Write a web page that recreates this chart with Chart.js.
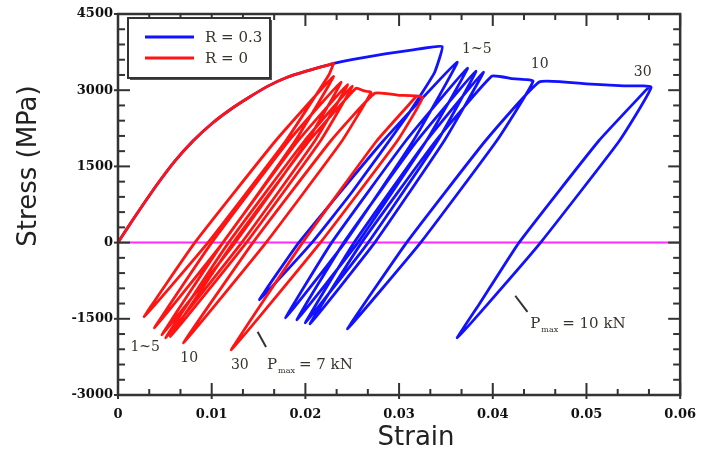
<!DOCTYPE html>
<html>
<head>
<meta charset="utf-8">
<script src="https://cdn.jsdelivr.net/npm/chart.js@4.4.0/dist/chart.umd.min.js"></script>
<style>
  html, body { margin: 0; padding: 0; background: #fff; }
  canvas { display: block; }
</style>
</head>
<body>
<canvas id="chart" width="708" height="455"></canvas>
<script>
// Stress-strain hysteresis loops, R = 0.3 (Pmax 10 kN) vs R = 0 (Pmax 7 kN)

// first loading curve, shared by both tests
const loadStrain = [0, 0.0010, 0.0020, 0.0040, 0.0060, 0.0080, 0.0100, 0.0120, 0.0140, 0.0160, 0.0180, 0.0200, 0.0226];
const loadStress = [0, 285, 565, 1100, 1590, 2000, 2340, 2620, 2860, 3080, 3250, 3370, 3505];

// R = 0.3 : rest of the path (peak, cycles 1~5, 10, 30)
const blueStrain = [
  0.0251, 0.0285, 0.0315, 0.0346,
  0.0338, 0.0327, 0.0306, 0.0250, 0.0207, 0.0151,
  0.0193, 0.0283, 0.0362,
  0.0315, 0.0242, 0.0179,
  0.0228, 0.0307, 0.0373,
  0.0329, 0.0256, 0.0191,
  0.0241, 0.0319, 0.0382,
  0.0341, 0.0267, 0.0200,
  0.0252, 0.0329, 0.0390,
  0.0348, 0.0274, 0.0205,
  0.0260, 0.0339, 0.0399,
  0.0420, 0.0443,
  0.0404, 0.0323, 0.0245,
  0.0308, 0.0392, 0.0450,
  0.0500, 0.0540, 0.0569,
  0.0535, 0.0451, 0.0395, 0.0362,
  0.0386, 0.0428, 0.0513, 0.0566
];
const blueStress = [
  3605, 3715, 3795, 3860,
  3355, 3020, 2428, 1000, 0, -1125,
  0, 2000, 3553,
  2000, 0, -1480,
  0, 2000, 3434,
  2000, 0, -1520,
  0, 2000, 3375,
  2000, 0, -1580,
  0, 2000, 3355,
  2000, 0, -1600,
  0, 2000, 3276,
  3230, 3178,
  2000, 0, -1700,
  0, 2000, 3165,
  3125, 3085, 3059,
  2000, 0, -1200, -1875,
  -1200, 0, 2000, 3050
];

// R = 0 : rest of the path
const redStrain = [
  0.0230,
  0.0225, 0.0179, 0.0096, 0.0028,
  0.0082, 0.0168, 0.0230,
  0.0189, 0.0112, 0.0039,
  0.0100, 0.0182, 0.0238,
  0.0202, 0.0125, 0.0047,
  0.0112, 0.0192, 0.0245,
  0.0210, 0.0132, 0.0051,
  0.0118, 0.0199, 0.0250,
  0.0216, 0.0137, 0.0056,
  0.0123, 0.0204, 0.0254,
  0.0262, 0.0270,
  0.0239, 0.0158, 0.0070,
  0.0144, 0.0227, 0.0274,
  0.0300, 0.0325,
  0.0298, 0.0216, 0.0121,
  0.0197, 0.0276, 0.0318
];
const redStress = [
  3530,
  3300, 2000, 0, -1460,
  0, 2000, 3270,
  2000, 0, -1678,
  0, 2000, 3160,
  2000, 0, -1816,
  0, 2000, 3110,
  2000, 0, -1875,
  0, 2000, 3080,
  2000, 0, -1850,
  0, 2000, 3040,
  2990, 2955,
  2000, 0, -1974,
  0, 2000, 2940,
  2900, 2862,
  2000, 0, -2112,
  0, 2000, 2870
];

const xTicks = [0, 0.01, 0.02, 0.03, 0.04, 0.05, 0.06];
const yTicks = [-3000, -1500, 0, 1500, 3000, 4500];

// cycle labels: [text, strain, stress]
const blueNotes = [["1~5", 0.0383, 3809], ["10", 0.0450, 3513], ["30", 0.0560, 3355]];
const redNotes = [["1~5", 0.0029, -2053], ["10", 0.0076, -2270], ["30", 0.0130, -2408]];

const BLUE = "#1212ff";
const RED = "#ff1414";
const INK = "#38332b";

function toPoints(xs, ys) {
  return xs.map((x, i) => ({ x, y: ys[i] }));
}

const bluePath = toPoints(loadStrain, loadStress).concat(toPoints(blueStrain, blueStress));
const redPath = toPoints(loadStrain, loadStress).concat(toPoints(redStrain, redStress));

/* ===================== Plugins ===================== */

// frame with inward ticks (minor ticks at thirds on x, fifths on y)
const framePlugin = {
  id: "frame",
  afterDatasetsDraw(chart) {
    const { ctx, chartArea: a, scales: { x, y } } = chart;
    const seg = (x1, y1, x2, y2) => { ctx.beginPath(); ctx.moveTo(x1, y1); ctx.lineTo(x2, y2); ctx.stroke(); };
    ctx.save();
    ctx.strokeStyle = "#333";
    ctx.lineWidth = 2;

    xTicks.forEach((v, i) => {
      const px = x.getPixelForValue(v);
      seg(px, a.bottom + 4, px, a.bottom - 12);
      seg(px, a.top, px, a.top + 12);
      if (i < xTicks.length - 1) {
        const step = (xTicks[i + 1] - v) / 3;
        for (let k = 1; k < 3; k++) {
          const mx = x.getPixelForValue(v + k * step);
          seg(mx, a.bottom, mx, a.bottom - 6);
          seg(mx, a.top, mx, a.top + 6);
        }
      }
    });

    yTicks.forEach((v, i) => {
      const py = y.getPixelForValue(v);
      seg(a.left - 4, py, a.left + 12, py);
      seg(a.right, py, a.right - 12, py);
      if (i < yTicks.length - 1) {
        const step = (yTicks[i + 1] - v) / 5;
        for (let k = 1; k < 5; k++) {
          const my = y.getPixelForValue(v + k * step);
          seg(a.left, my, a.left + 7, my);
          seg(a.right, my, a.right - 7, my);
        }
      }
    });

    ctx.lineWidth = 2.5;
    ctx.strokeRect(a.left, a.top, a.right - a.left, a.bottom - a.top);
    ctx.restore();
  },
};

// axis titles, legend box and the cycle / load notes
const notesPlugin = {
  id: "notes",
  afterDraw(chart) {
    const { ctx, chartArea: a, scales: { x, y } } = chart;
    ctx.save();

    // axis titles
    ctx.fillStyle = "#222";
    ctx.font = "26px 'DejaVu Sans'";
    ctx.textAlign = "center";
    ctx.textBaseline = "middle";
    ctx.fillText("Strain", 416, 438);
    ctx.save();
    ctx.translate(29, 166);
    ctx.rotate(-Math.PI / 2);
    ctx.fillText("Stress (MPa)", 0, 0);
    ctx.restore();

    // legend
    const lx = a.left + 10, ly = a.top + 4, lw = 142, lh = 60;
    ctx.fillStyle = "#555";
    ctx.fillRect(lx + 2, ly + 2, lw, lh);
    ctx.fillStyle = "#fff";
    ctx.fillRect(lx, ly, lw, lh);
    ctx.strokeStyle = "#333";
    ctx.lineWidth = 2;
    ctx.strokeRect(lx, ly, lw, lh);
    chart.data.datasets.slice(0, 2).forEach((ds, i) => {
      const yy = ly + 19 + i * 21;
      ctx.strokeStyle = ds.borderColor;
      ctx.lineWidth = 3;
      ctx.beginPath();
      ctx.moveTo(lx + 17, yy);
      ctx.lineTo(lx + 66, yy);
      ctx.stroke();
      ctx.fillStyle = INK;
      ctx.font = "15px 'DejaVu Serif'";
      ctx.textAlign = "left";
      ctx.fillText(ds.label, lx + 77, yy + 1);
    });

    // cycle numbers
    ctx.fillStyle = INK;
    ctx.font = "14px 'DejaVu Serif'";
    ctx.textAlign = "center";
    blueNotes.concat(redNotes).forEach(([t, sx, sy]) => {
      ctx.fillText(t, x.getPixelForValue(sx), y.getPixelForValue(sy));
    });

    // Pmax notes with leader lines
    const pmax = (load, sx, sy, fromX, fromY, toX, toY) => {
      ctx.strokeStyle = "#333";
      ctx.lineWidth = 2;
      ctx.beginPath();
      ctx.moveTo(x.getPixelForValue(fromX), y.getPixelForValue(fromY));
      ctx.lineTo(x.getPixelForValue(toX), y.getPixelForValue(toY));
      ctx.stroke();
      let px = x.getPixelForValue(sx);
      const py = y.getPixelForValue(sy);
      ctx.textAlign = "left";
      ctx.font = "15px 'DejaVu Serif'";
      ctx.fillText("P", px, py);
      px += ctx.measureText("P").width;
      ctx.font = "8px 'DejaVu Serif'";
      ctx.fillText("max", px + 1, py + 6);
      px += ctx.measureText("max").width + 5;
      ctx.font = "15px 'DejaVu Serif'";
      ctx.fillText("= " + load, px, py);
    };
    pmax("7 kN", 0.0159, -2408, 0.0149, -1757, 0.0158, -2053);
    pmax("10 kN", 0.0440, -1599, 0.0424, -1046, 0.0437, -1362);

    ctx.restore();
  },
};

/* ===================== Chart ===================== */

const lineStyle = { showLine: true, borderWidth: 2.8, pointRadius: 0, tension: 0.12 };

new Chart(document.getElementById("chart"), {
  type: "scatter",
  data: {
    datasets: [
      { ...lineStyle, label: "R = 0.3", data: bluePath, borderColor: BLUE, backgroundColor: BLUE, order: 2 },
      { ...lineStyle, label: "R = 0", data: redPath, borderColor: RED, backgroundColor: RED, order: 1 },
      {
        label: "zero",
        data: [{ x: 0, y: 0 }, { x: 0.06, y: 0 }],
        showLine: true,
        borderColor: "#ff2bff",
        borderWidth: 2,
        pointRadius: 0,
        order: 3,
      },
    ],
  },
  options: {
    responsive: false,
    animation: false,
    devicePixelRatio: 1,
    layout: { padding: { top: 14, right: 17, left: 0, bottom: 0 } },
    plugins: {
      legend: { display: false },
      tooltip: { enabled: false },
    },
    scales: {
      x: {
        type: "linear",
        min: 0,
        max: 0.06,
        afterBuildTicks: (s) => { s.ticks = xTicks.map((v) => ({ value: v })); },
        afterFit: (s) => { s.height = 60; },
        grid: { display: false, drawTicks: false },
        border: { display: false },
        ticks: {
          padding: 12,
          color: "#111",
          font: { family: "'DejaVu Serif'", size: 13, weight: "bold" },
          callback: (v) => (v === 0 ? "0" : v.toFixed(2)),
        },
      },
      y: {
        type: "linear",
        min: -3000,
        max: 4500,
        afterBuildTicks: (s) => { s.ticks = yTicks.map((v) => ({ value: v })); },
        afterFit: (s) => { s.width = 118; },
        grid: { display: false, drawTicks: false },
        border: { display: false },
        ticks: {
          padding: 5,
          color: "#111",
          font: { family: "'DejaVu Serif'", size: 13, weight: "bold" },
          callback: (v) => String(v),
        },
      },
    },
  },
  plugins: [framePlugin, notesPlugin],
});
</script>
</body>
</html>
